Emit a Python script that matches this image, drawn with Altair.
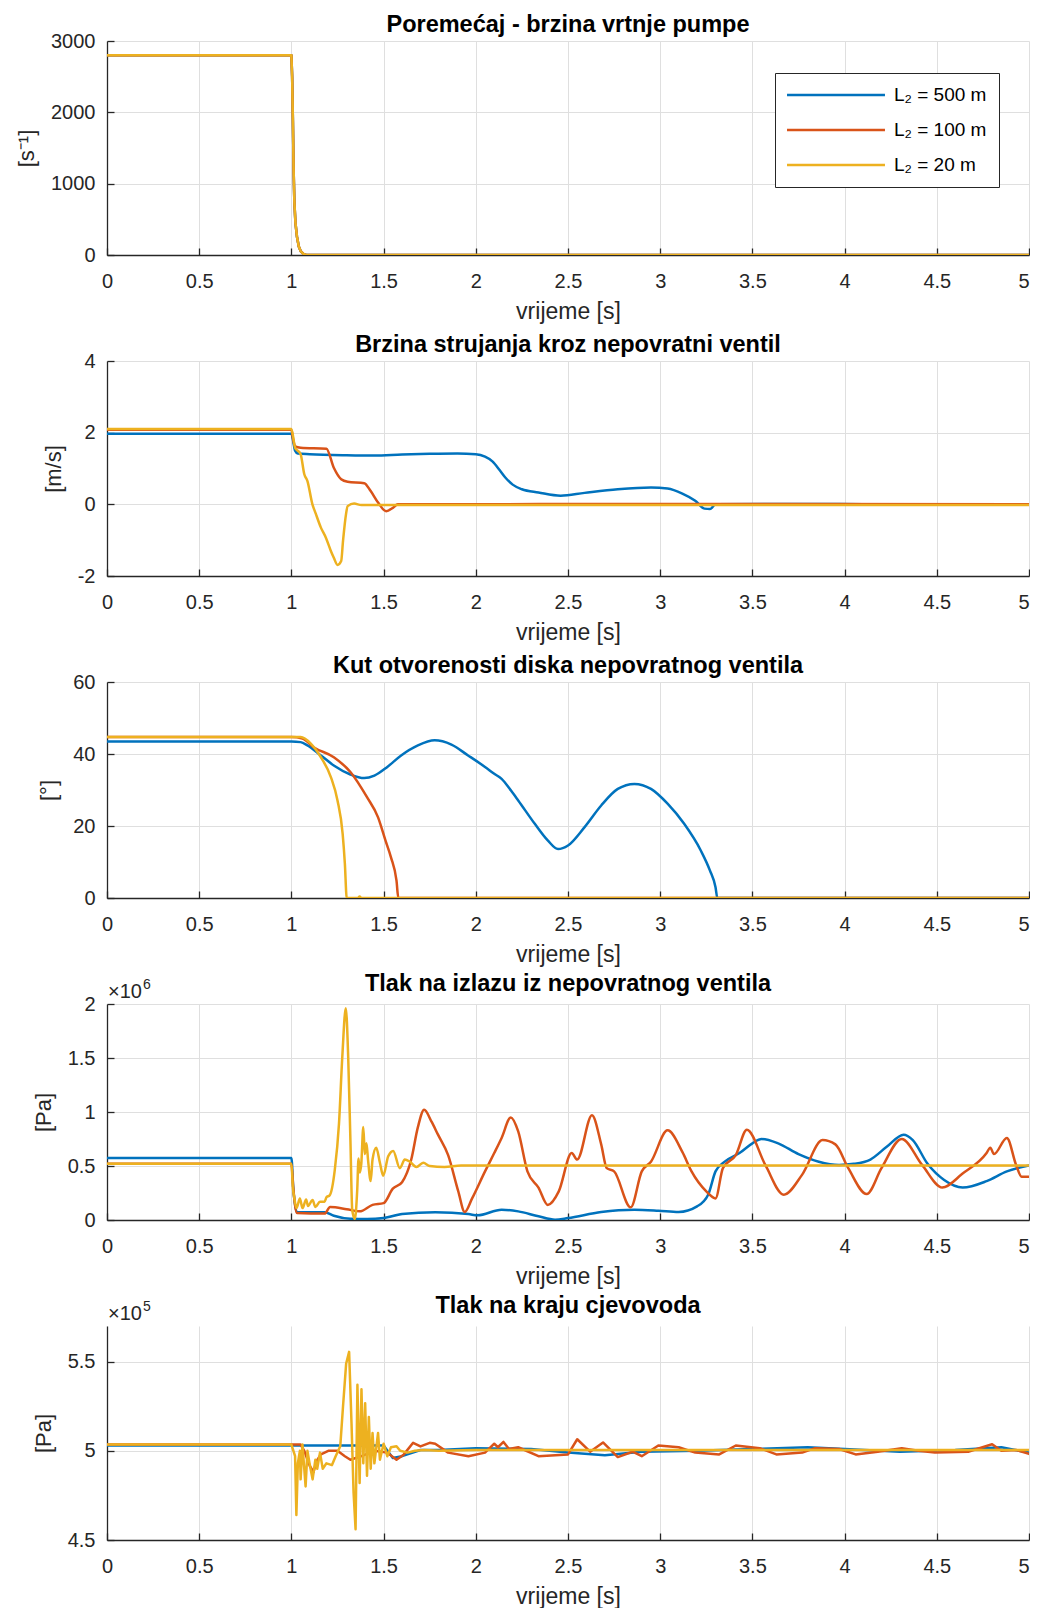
import altair as alt
import pandas as pd

SERIES = ["L₂ = 500 m", "L₂ = 100 m", "L₂ = 20 m"]
COLORS = ["#0072BD", "#D95319", "#EDB120"]
X_TICKS = [0, 0.5, 1, 1.5, 2, 2.5, 3, 3.5, 4, 4.5, 5]

# ---- Panel 1: pump speed [1/s] (all three identical) ----
P1_T = [0, 1.0, 1.004, 1.008, 1.012, 1.016, 1.022, 1.03, 1.04, 1.05, 1.065, 1.08, 5.0]
P1_V = [2800, 2800, 2500, 1900, 1200, 750, 450, 260, 120, 55, 15, 0, 0]

# ---- Panel 2: flow velocity [m/s] ----
P2_BLUE_T = [0, 1.0, 1.01, 1.02, 1.035, 1.1, 1.3, 1.45, 1.6, 1.75, 1.9, 2.0, 2.05, 2.09, 2.13, 2.16, 2.2,
             2.25, 2.34, 2.46, 2.59, 2.77, 2.95, 3.04, 3.12, 3.19, 3.24, 3.27, 3.3, 3.6, 4.6, 5.0]
P2_BLUE_V = [1.97, 1.97, 1.75, 1.5, 1.42, 1.40, 1.37, 1.36, 1.39, 1.41, 1.42, 1.40, 1.33, 1.2, 0.95, 0.75, 0.55,
             0.42, 0.33, 0.24, 0.32, 0.42, 0.47, 0.44, 0.30, 0.10, -0.12, -0.13, 0.0, 0.01, 0.0, 0.0]
P2_ORANGE_T = [0, 1.0, 1.01, 1.02, 1.05, 1.19, 1.23, 1.27, 1.305, 1.395, 1.43, 1.47, 1.514, 1.55, 1.577, 1.8, 2.5, 5.0]
P2_ORANGE_V = [2.08, 2.08, 1.8, 1.62, 1.58, 1.55, 1.02, 0.70, 0.63, 0.59, 0.37, 0.05, -0.19, -0.1, 0.0, 0.0, 0.01, 0.0]
P2_YELLOW_T = [0, 1.0, 1.02, 1.05, 1.07, 1.087, 1.114, 1.13, 1.16, 1.187, 1.214, 1.23, 1.25, 1.27, 1.28,
               1.296, 1.305, 1.34, 1.38, 2.0, 5.0]
P2_YELLOW_V = [2.1, 2.1, 1.58, 1.40, 0.84, 0.65, 0.0, -0.23, -0.65, -0.93, -1.3, -1.49, -1.69, -1.58, -1.02,
               -0.28, -0.05, 0.02, -0.02, -0.02, -0.02]

# ---- Panel 3: disk opening angle [deg] ----
P3_BLUE_T = [0, 1.0, 1.05, 1.087, 1.16, 1.23, 1.32, 1.395, 1.45, 1.52, 1.595, 1.686, 1.777, 1.868, 1.958, 2.05,
             2.10, 2.14, 2.19, 2.23, 2.32, 2.39, 2.446, 2.5, 2.59, 2.68, 2.77, 2.86, 2.95, 3.04, 3.13, 3.22,
             3.27, 3.30, 3.31, 5.0]
P3_BLUE_V = [43.5, 43.5, 43.3, 42.4, 39.6, 36.8, 34.3, 33.3, 34.0, 36.4, 39.6, 42.4, 43.8, 42.6, 39.6, 36.4,
             34.5, 33.1, 29.9, 27.1, 20.6, 16.0, 13.6, 14.6, 19.7, 25.7, 30.3, 31.7, 30.3, 26.2, 20.6, 13.2,
             7.6, 3.0, 0.0, 0.0]
P3_ORANGE_T = [0, 1.0, 1.06, 1.12, 1.23, 1.32, 1.41, 1.47, 1.51, 1.54, 1.57, 1.58, 5.0]
P3_ORANGE_V = [44.7, 44.7, 44.3, 41.9, 39.1, 35.0, 28.0, 22.4, 16.0, 11.3, 4.8, 0.0, 0.0]
P3_YELLOW_T = [0, 1.0, 1.05, 1.105, 1.16, 1.214, 1.25, 1.278, 1.29, 1.30, 1.36, 1.37, 1.38, 5.0]
P3_YELLOW_V = [44.7, 44.7, 44.7, 42.9, 39.1, 33.6, 27.1, 17.8, 9.5, 0.0, 0.0, 0.4, 0.0, 0.0]

# ---- Panel 4: outlet pressure [x10^6 Pa] ----
P4_BLUE_T = [0, 1.0, 1.01, 1.03, 1.18, 1.23, 1.32, 1.41, 1.5, 1.6, 1.78, 1.96, 2.01, 2.14, 2.23, 2.34, 2.43,
             2.5, 2.68, 2.86, 2.99, 3.1, 3.2, 3.26, 3.3, 3.35, 3.43, 3.5, 3.55, 3.64, 3.75, 3.86, 3.97, 4.05,
             4.14, 4.23, 4.32, 4.37, 4.45, 4.54, 4.64, 4.77, 4.88, 5.0]
P4_BLUE_V = [0.575, 0.575, 0.3, 0.072, 0.072, 0.04, 0.012, 0.01, 0.018, 0.055, 0.071, 0.055, 0.043, 0.095,
             0.08, 0.034, 0.003, 0.018, 0.074, 0.095, 0.086, 0.074, 0.126, 0.234, 0.45, 0.54, 0.62, 0.71,
             0.75, 0.71, 0.61, 0.54, 0.51, 0.52, 0.56, 0.68, 0.79, 0.74, 0.52, 0.37, 0.30, 0.36, 0.45, 0.505]
P4_ORANGE_T = [0, 1.0, 1.01, 1.03, 1.18, 1.21, 1.3, 1.37, 1.44, 1.5, 1.55, 1.6, 1.65, 1.686, 1.72, 1.76,
               1.795, 1.85, 1.905, 1.94, 1.98, 2.05, 2.10, 2.14, 2.19, 2.23, 2.28, 2.34, 2.39, 2.45, 2.52,
               2.55, 2.63, 2.68, 2.71, 2.75, 2.84, 2.90, 2.95, 3.04, 3.12, 3.17, 3.25, 3.3, 3.34, 3.41, 3.47,
               3.57, 3.67, 3.77, 3.88, 3.95, 4.02, 4.12, 4.2, 4.31, 4.42, 4.53, 4.64, 4.77, 4.79, 4.81, 4.88,
               4.93, 4.96, 5.0]
P4_ORANGE_V = [0.52, 0.52, 0.3, 0.065, 0.06, 0.12, 0.1, 0.08, 0.14, 0.156, 0.29, 0.35, 0.56, 0.86, 1.02, 0.91,
               0.79, 0.60, 0.265, 0.074, 0.20, 0.45, 0.62, 0.76, 0.95, 0.82, 0.45, 0.30, 0.14, 0.265, 0.62,
               0.56, 0.97, 0.70, 0.48, 0.45, 0.117, 0.45, 0.54, 0.83, 0.63, 0.45, 0.265, 0.20, 0.48, 0.60,
               0.835, 0.51, 0.234, 0.42, 0.74, 0.70, 0.48, 0.24, 0.48, 0.75, 0.51, 0.30, 0.43, 0.62, 0.67,
               0.61, 0.76, 0.51, 0.40, 0.40]
P4_YELLOW_T = [0, 1.0, 1.008, 1.016, 1.028, 1.046, 1.06, 1.08, 1.09, 1.115, 1.13, 1.155, 1.18, 1.19, 1.208,
               1.235, 1.258, 1.276, 1.295, 1.308, 1.32, 1.33, 1.344, 1.357, 1.364, 1.371, 1.379, 1.39, 1.398,
               1.407, 1.416, 1.43, 1.44, 1.46, 1.48, 1.498, 1.525, 1.552, 1.588, 1.615, 1.642, 1.678, 1.715,
               1.75, 1.83, 1.92, 5.0]
P4_YELLOW_V = [0.52, 0.52, 0.3, 0.20, 0.11, 0.20, 0.11, 0.19, 0.13, 0.185, 0.12, 0.17, 0.17, 0.21, 0.23,
               0.46, 0.89, 1.51, 1.96, 1.51, 0.74, 0.09, 0.01, 0.28, 0.57, 0.44, 0.52, 0.86, 0.61, 0.71,
               0.55, 0.36, 0.56, 0.67, 0.53, 0.41, 0.59, 0.64, 0.48, 0.56, 0.54, 0.49, 0.53, 0.50, 0.49,
               0.505, 0.505]

# ---- Panel 5: pipeline end pressure [x10^5 Pa] ----
P5_BLUE_T = [0, 1.0, 1.5, 1.55, 1.6, 1.7, 1.8, 2.0, 2.3, 2.5, 2.7, 2.9, 3.2, 3.5, 3.8, 4.0, 4.3, 4.6, 4.85, 5.0]
P5_BLUE_V = [5.03, 5.03, 5.03, 4.96, 4.97, 5.005, 5.005, 5.015, 5.01, 4.99, 4.975, 4.995, 5.0, 5.01, 5.02,
             5.01, 4.995, 5.005, 5.02, 4.99]
P5_ORANGE_T = [0, 1.0, 1.05, 1.07, 1.08, 1.1, 1.12, 1.135, 1.16, 1.2, 1.25, 1.29, 1.32, 1.38, 1.45, 1.52,
               1.57, 1.61, 1.66, 1.7, 1.75, 1.78, 1.85, 1.96, 2.05, 2.1, 2.12, 2.15, 2.18, 2.23, 2.34, 2.5,
               2.55, 2.62, 2.69, 2.77, 2.85, 2.9, 2.99, 3.1, 3.19, 3.32, 3.41, 3.54, 3.63, 3.77, 3.84, 3.97,
               4.06, 4.18, 4.31, 4.4, 4.49, 4.67, 4.8, 4.85, 4.93, 5.0]
P5_ORANGE_V = [5.035, 5.035, 5.035, 5.0, 4.97, 4.915, 4.88, 4.94, 4.98, 5.0, 5.0, 4.97, 4.95, 4.97, 5.0,
               4.99, 4.95, 4.98, 5.045, 5.025, 5.045, 5.04, 4.99, 4.97, 4.99, 5.04, 5.02, 5.05, 5.01, 5.02,
               4.97, 4.98, 5.065, 4.995, 5.047, 4.965, 4.995, 4.97, 5.03, 5.02, 4.99, 4.98, 5.03, 5.015,
               4.98, 4.99, 5.015, 5.01, 4.98, 4.995, 5.015, 5.0, 4.99, 4.995, 5.037, 5.0, 5.005, 4.983]
P5_YELLOW_T = [0, 1.0, 1.02, 1.027, 1.035, 1.046, 1.05, 1.06, 1.077, 1.087, 1.1, 1.115, 1.13, 1.14, 1.155,
               1.17, 1.19, 1.22, 1.24, 1.265, 1.28, 1.297, 1.313, 1.326, 1.337, 1.348, 1.358, 1.37, 1.38,
               1.39, 1.4, 1.41, 1.42, 1.43, 1.44, 1.45, 1.47, 1.48, 1.5, 1.52, 1.54, 1.57, 1.59, 1.63,
               1.67, 1.72, 1.8, 2.0, 5.0]
P5_YELLOW_V = [5.035, 5.035, 4.97, 4.64, 4.93, 5.0, 4.84, 5.035, 4.80, 5.0, 4.92, 4.84, 4.95, 4.90, 4.99,
               4.90, 4.93, 4.92, 4.97, 5.026, 5.25, 5.49, 5.555, 5.155, 4.77, 4.56, 5.37, 4.82, 5.345, 4.93,
               5.267, 4.86, 5.19, 4.9, 5.1, 4.93, 5.1, 4.95, 5.04, 4.97, 5.02, 5.026, 5.0, 4.99, 5.0, 5.005,
               5.0, 5.005, 5.005]

AX = "#262626"
GRID = "#dfdfdf"
FONT = "Liberation Sans"
W = 922


def series_df(t_lists, v_lists):
    rows = []
    for s, ts, vs in zip(SERIES, t_lists, v_lists):
        rows += [{"series": s, "t": t, "v": v} for t, v in zip(ts, vs)]
    return pd.DataFrame(rows)


LEGEND = alt.Legend(
    orient="none", legendX=668, legendY=32, title=None,
    symbolType="M-5.6,0H5.6", symbolSize=306, symbolStrokeWidth=2.5,
    symbolOffset=39, labelOffset=48, rowPadding=15, padding=12,
    labelFont=FONT, labelFontSize=19, labelColor="#000", labelLimit=0,
    strokeColor=AX, fillColor="#ffffff", cornerRadius=0,
)

X_LABEL_ALIGN = {"condition": {"test": "datum.value == 5", "value": "right"}, "value": "center"}


def panel(df, title, ytitle, ydom, yticks, H, legend=None, exponent=None, interp="linear", title_offset=-5):
    xs = alt.Scale(domain=[0, 5], nice=False, zero=False)
    ys = alt.Scale(domain=ydom, nice=False, zero=False)
    xaxis = alt.Axis(values=X_TICKS, labelExpr="'' + datum.value", grid=True, gridColor=GRID,
                     gridWidth=1, ticks=False, domainColor=AX, domainWidth=1.3, labelFont=FONT,
                     labelFontSize=20, labelColor=AX, labelPadding=16, labelFlush=False,
                     labelAlign=X_LABEL_ALIGN,
                     labelOverlap=False, title="vrijeme [s]", titleFont=FONT, titleFontSize=23,
                     titleFontWeight="normal", titleColor=AX, titlePadding=9)
    yaxis = alt.Axis(values=yticks, labelExpr="'' + datum.value", grid=True, gridColor=GRID,
                     gridWidth=1, ticks=False, domainColor=AX, domainWidth=1.3, labelFont=FONT,
                     labelFontSize=20, labelColor=AX, labelPadding=12, labelFlush=False,
                     labelOverlap=False, title=ytitle, titleFont=FONT, titleFontSize=22,
                     titleFontWeight="normal", titleColor=AX, titlePadding=12)
    cscale = alt.Scale(domain=SERIES, range=COLORS)
    layers = []
    for s in SERIES:
        layers.append(
            alt.Chart(df).transform_filter(alt.datum.series == s)
            .mark_line(strokeWidth=2.5, clip=True, strokeJoin="round", strokeCap="round",
                       interpolate=interp)
            .encode(
                x=alt.X("t:Q", scale=xs, axis=xaxis),
                y=alt.Y("v:Q", scale=ys, axis=yaxis),
                color=alt.Color("series:N", scale=cscale, legend=legend),
            )
        )
    if exponent:
        layers.append(
            alt.Chart(pd.DataFrame({"txt": ["×10"]}))
            .mark_text(align="left", baseline="alphabetic", font=FONT, fontSize=20, color=AX)
            .encode(x=alt.value(1), y=alt.value(-6), text="txt:N")
        )
        layers.append(
            alt.Chart(pd.DataFrame({"txt": [exponent]}))
            .mark_text(align="left", baseline="alphabetic", font=FONT, fontSize=14, color=AX)
            .encode(x=alt.value(36), y=alt.value(-15), text="txt:N")
        )
    inner = alt.layer(*layers)
    tick_df = pd.DataFrame({"t": [0, 0], "v": [ydom[0], ydom[0]]})
    tk = alt.Chart(tick_df).mark_point(opacity=0, size=1).encode(
        x=alt.X("t:Q", scale=xs, axis=alt.Axis(orient="top", offset=-H, values=X_TICKS, labels=False,
                                                domain=False, grid=False, ticks=True, tickSize=7,
                                                tickColor=AX, tickWidth=1.3, title=None)),
        y=alt.Y("v:Q", scale=ys, axis=alt.Axis(orient="right", offset=-W, values=yticks, labels=False,
                                                domain=False, grid=False, ticks=True, tickSize=7,
                                                tickColor=AX, tickWidth=1.3, title=None)),
    )
    return (
        alt.layer(inner, tk)
        .resolve_axis(x="independent", y="independent")
        .properties(
            width=W, height=H,
            title=alt.TitleParams(text=title, font=FONT, fontSize=23.5, fontWeight="bold", color="#000",
                                  frame="group", anchor="middle", offset=title_offset),
        )
    )


p1 = panel(series_df([P1_T] * 3, [P1_V] * 3), "Poremećaj - brzina vrtnje pumpe", "[s⁻¹]",
           [0, 3000], [0, 1000, 2000, 3000], 214, legend=LEGEND)
p2 = panel(series_df([P2_BLUE_T, P2_ORANGE_T, P2_YELLOW_T], [P2_BLUE_V, P2_ORANGE_V, P2_YELLOW_V]),
           "Brzina strujanja kroz nepovratni ventil", "[m/s]", [-2, 4], [-2, 0, 2, 4], 215,
           interp="monotone")
p3 = panel(series_df([P3_BLUE_T, P3_ORANGE_T, P3_YELLOW_T], [P3_BLUE_V, P3_ORANGE_V, P3_YELLOW_V]),
           "Kut otvorenosti diska nepovratnog ventila", "[°]", [0, 60], [0, 20, 40, 60], 216,
           interp="monotone")
p4 = panel(series_df([P4_BLUE_T, P4_ORANGE_T, P4_YELLOW_T], [P4_BLUE_V, P4_ORANGE_V, P4_YELLOW_V]),
           "Tlak na izlazu iz nepovratnog ventila", "[Pa]", [0, 2], [0, 0.5, 1, 1.5, 2], 216,
           exponent="6", interp="monotone", title_offset=-17)
p5 = panel(series_df([P5_BLUE_T, P5_ORANGE_T, P5_YELLOW_T], [P5_BLUE_V, P5_ORANGE_V, P5_YELLOW_V]),
           "Tlak na kraju cjevovoda", "[Pa]", [4.5, 5.7], [4.5, 5, 5.5], 214, exponent="5",
           title_offset=-17)

chart = (
    alt.vconcat(p1, p2, p3, p4, p5, spacing=106, bounds="flush")
    .resolve_scale(color="independent")
    .resolve_legend(color="independent")
    .configure_view(stroke=None)
    .properties(padding={"left": 7, "top": 4, "right": 0, "bottom": 0})
)

chart.save("out.html", embed_options={"renderer": "svg", "actions": False})
